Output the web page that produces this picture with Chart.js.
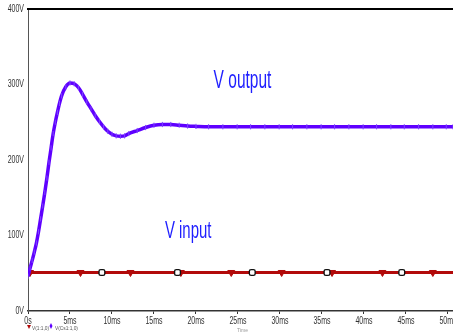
<!DOCTYPE html>
<html><head><meta charset="utf-8">
<script src="https://cdn.jsdelivr.net/npm/chart.js@4/dist/chart.umd.min.js"></script>
<style>html,body{margin:0;padding:0;background:#fff;}canvas{display:block;}</style>
</head><body>
<canvas id="c" width="453" height="333"></canvas>
<script>
// ---- data ----
const outTime  = [0, 0.25, 0.5, 0.75, 1.0, 1.25, 1.5, 1.75, 2.0, 2.25, 2.5, 2.75, 3.0, 3.25, 3.5, 3.75, 4.0, 4.5, 5.0, 5.5, 6.0, 6.5, 7.0, 7.5, 8.0, 8.5, 9.0, 9.5, 10.0, 10.5, 11.0, 11.5, 12.0, 13.0, 14.0, 15.0, 16.0, 17.0, 18.0, 19.0, 20.0, 21.5, 23.2, 24.9, 26.5, 28.2, 29.9, 31.5, 33.2, 34.9, 36.5, 38.2, 39.9, 41.5, 43.2, 44.8, 46.5, 48.2, 49.8, 50.6];
const outVolts = [46, 57, 67, 78, 90, 105, 122, 139, 157, 176, 197, 216, 235, 250, 263, 275, 285, 297, 302, 301, 296, 287, 277, 268, 259, 251, 244, 238, 234, 232, 231.5, 232, 235, 239, 243, 246, 247, 247, 246, 245, 244.5, 244, 244, 244, 244, 244, 244, 244, 244, 244, 244, 244, 244, 244, 244, 244, 244, 244, 244, 244];
const inTime   = [0, 0.24, 6.25, 12.2, 18.2, 24.2, 30.2, 36.2, 42.2, 48.2, 50.6];
const inVolts  = [51, 51, 51, 51, 51, 51, 51, 51, 51, 51, 51];
const cursorTime  = [8.8, 17.8, 26.7, 35.6, 44.5];
const cursorVolts = [51, 51, 51, 51, 51];
const xTicks = [0, 5, 10, 15, 20, 25, 30, 35, 40, 45, 50];
const xTickLabels = ['0s', '5ms', '10ms', '15ms', '20ms', '25ms', '30ms', '35ms', '40ms', '45ms', '50ms'];
const yTicks = [0, 100, 200, 300, 400];
const yTickLabels = ['0V', '100V', '200V', '300V', '400V'];
const seriesNames = ['V(1:1,0)', 'V(Cs1:1,0)'];
const annotations = [
  {text: 'V output', t: 22.1, v: 295, size: 25, sx: 0.62},
  {text: 'V input',  t: 16.3, v: 97,  size: 23, sx: 0.65}
];

const pts = (xs, ys) => xs.map((x, i) => ({x: x, y: ys[i]}));
const FONT = "'Liberation Sans',Arial,sans-serif";
const BLUE = '#5f00ff', RED = '#b20a0a';

function narrowText(ctx, text, x, y, sx, align) {
  ctx.save();
  ctx.translate(x, y);
  ctx.scale(sx, 1);
  ctx.textAlign = align || 'left';
  ctx.fillText(text, 0, 0);
  ctx.restore();
}

const overlay = {
  id: 'overlay',
  afterDraw(chart) {
    const ctx = chart.ctx, a = chart.chartArea;
    const xs = chart.scales.x, ys = chart.scales.y;
    ctx.save();
    // top frame line
    ctx.strokeStyle = '#000'; ctx.lineWidth = 2;
    ctx.beginPath(); ctx.moveTo(a.left - 1, a.top); ctx.lineTo(a.right, a.top); ctx.stroke();
    // tick labels (condensed)
    ctx.fillStyle = '#333';
    ctx.font = "10px " + FONT;
    ctx.textBaseline = 'middle';
    ys.ticks.forEach((tk) => {
      const lbl = yTickLabels[yTicks.indexOf(tk.value)];
      narrowText(ctx, lbl, 24, ys.getPixelForValue(tk.value), 0.7, 'right');
    });
    xs.ticks.forEach((tk) => {
      const lbl = xTickLabels[xTicks.indexOf(tk.value)];
      narrowText(ctx, lbl, xs.getPixelForValue(tk.value), 321.5, 0.7, 'center');
    });
    // annotations (condensed blue text)
    ctx.fillStyle = '#1f1fff';
    ctx.textBaseline = 'alphabetic';
    annotations.forEach((an) => {
      ctx.font = an.size + "px " + FONT;
      narrowText(ctx, an.text, xs.getPixelForValue(an.t), ys.getPixelForValue(an.v), an.sx, 'left');
    });
    // legend
    ctx.font = "6px " + FONT;
    ctx.textBaseline = 'middle';
    ctx.fillStyle = RED;
    ctx.beginPath(); ctx.moveTo(27, 325); ctx.lineTo(31, 325); ctx.lineTo(29, 329); ctx.closePath(); ctx.fill();
    ctx.fillStyle = '#555';
    narrowText(ctx, chart.data.datasets[2].label, 32, 328, 0.8, 'left');
    ctx.fillStyle = BLUE;
    ctx.beginPath(); ctx.moveTo(51, 323); ctx.lineTo(52.5, 326); ctx.lineTo(51, 329); ctx.lineTo(49.5, 326); ctx.closePath(); ctx.fill();
    ctx.fillStyle = '#555';
    narrowText(ctx, chart.data.datasets[1].label, 55, 328, 0.8, 'left');
    // axis title
    ctx.font = "5px " + FONT;
    ctx.fillStyle = '#999';
    ctx.fillText('Time', 237, 331);
    ctx.restore();
  }
};

new Chart(document.getElementById('c'), {
  type: 'line',
  data: {
    datasets: [
      {
        label: 'cursor',
        data: pts(cursorTime, cursorVolts),
        showLine: false,
        pointStyle: 'rectRounded',
        pointRadius: 3.4,
        pointBackgroundColor: '#fff',
        pointBorderColor: '#111',
        pointBorderWidth: 1.4
      },
      {
        label: seriesNames[1],
        data: pts(outTime, outVolts),
        borderColor: BLUE,
        borderWidth: 3.5,
        cubicInterpolationMode: 'monotone',
        pointStyle: 'line',
        rotation: 90,
        pointRadius: 2.6,
        pointBorderColor: '#7d45ff',
        pointBorderWidth: 1
      },
      {
        label: seriesNames[0],
        data: pts(inTime, inVolts),
        borderColor: RED,
        borderWidth: 3,
        pointStyle: 'triangle',
        rotation: 180,
        pointRadius: inTime.map((t, i) => (i === 0 || i === inTime.length - 1) ? 0 : 4),
        pointBackgroundColor: RED,
        pointBorderColor: RED,
        pointBorderWidth: 1
      }
    ]
  },
  options: {
    responsive: false,
    animation: false,
    events: [],
    layout: {autoPadding: false, padding: {top: 9, right: 0, left: 0, bottom: 0}},
    plugins: {legend: {display: false}, tooltip: {enabled: false}},
    scales: {
      x: {
        type: 'linear',
        min: 0, max: 50.6,
        afterBuildTicks: (s) => { s.ticks = xTicks.map(v => ({value: v})); },
        afterFit: (s) => { s.height = 22; s.paddingRight = 0; s.paddingLeft = 0; },
        ticks: {display: false},
        grid: {drawOnChartArea: false, drawTicks: true, tickLength: 3, color: '#333'},
        border: {color: '#333', width: 1.5}
      },
      y: {
        min: 0, max: 400,
        afterBuildTicks: (s) => { s.ticks = yTicks.map(v => ({value: v})); },
        afterFit: (s) => { s.width = 28; },
        ticks: {display: false},
        grid: {drawOnChartArea: false, drawTicks: false},
        border: {color: '#555', width: 1}
      }
    }
  },
  plugins: [overlay]
});
</script>
</body></html>
